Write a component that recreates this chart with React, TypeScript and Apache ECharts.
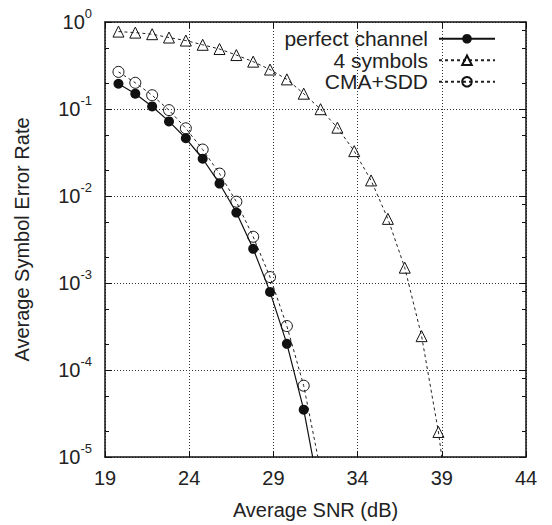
import React, { useEffect, useRef } from "react";
import * as echarts from "echarts";

// SNR values (dB) at which the curves were sampled
const snrShort = [19.8, 20.8, 21.8, 22.8, 23.8, 24.8, 25.8, 26.8, 27.8, 28.8, 29.8, 30.8, 31.8];
const snrLong = [
  19.8, 20.8, 21.8, 22.8, 23.8, 24.8, 25.8, 26.8, 27.8, 28.8, 29.8, 30.8, 31.8, 32.8, 33.8,
  34.8, 35.8, 36.8, 37.8, 38.8, 39.8,
];

// Average symbol error rate
const perfectChannel = [0.195, 0.15, 0.107, 0.072, 0.0461, 0.0268, 0.0139, 0.00645, 0.00247, 7.9e-4, 2.0e-4, 3.5e-5, 3.3e-6];
const cmaSdd = [0.267, 0.2, 0.144, 0.097, 0.06, 0.0342, 0.0181, 0.0086, 0.0034, 0.00117, 3.2e-4, 6.6e-5, 7e-6];
const fourSymbols = [
  0.776, 0.755, 0.724, 0.663, 0.612, 0.547, 0.489, 0.417, 0.35, 0.284, 0.219, 0.15, 0.0995,
  0.061, 0.0328, 0.0151, 0.00546, 0.0015, 2.45e-4, 1.94e-5, 7e-7,
];

const seriesNames = ["perfect channel", "4 symbols", "CMA+SDD"];
const xTicks = [19, 24, 29, 34, 39, 44];
const decades = [1e-5, 1e-4, 1e-3, 1e-2, 1e-1];
const minorLeft = [2, 5];
const minorRight = [2, 5, 8];

const FONT = "'Liberation Sans', Arial, Helvetica, sans-serif";
const zip = (xs: number[], ys: number[]) => xs.map((x, i) => [x, ys[i]]);

export default function App() {
  const ref = useRef<HTMLDivElement>(null);
  useEffect(() => {
    const chart = echarts.init(ref.current!, null, { renderer: "svg" });
    const leftMinor: number[] = [];
    const rightMinor: number[] = [];
    decades.forEach((d) => {
      minorLeft.forEach((m) => leftMinor.push(m * d));
      minorRight.forEach((m) => rightMinor.push(m * d));
    });
    const frame = { show: true, lineStyle: { color: "#111", width: 1.5 } };
    const grid = { type: [1, 2], color: "#333", width: 1 };
    const option: any = {
      animation: false,
      backgroundColor: "#fff",
      grid: { left: 105, right: 26, top: 22, bottom: 64 },
      legend: {
        orient: "vertical",
        right: 51,
        top: 23,
        align: "right",
        itemWidth: 56,
        itemHeight: 12,
        itemGap: 0,
        selectedMode: false,
        textStyle: { fontSize: 21, fontFamily: FONT, color: "#222", lineHeight: 21.5, padding: [0, 6, 0, 0] },
        data: seriesNames,
      },
      xAxis: [
        {
          type: "value",
          min: xTicks[0],
          max: xTicks[xTicks.length - 1],
          interval: 5,
          name: "Average SNR (dB)",
          nameLocation: "middle",
          nameGap: 43,
          nameTextStyle: { fontSize: 20, fontFamily: FONT, color: "#222" },
          axisLine: frame,
          axisTick: { show: true, inside: true, length: 6, lineStyle: { color: "#111" } },
          axisLabel: { fontSize: 20, fontFamily: FONT, color: "#222", margin: 11 },
          splitLine: { show: true, lineStyle: grid },
        },
        {
          type: "value",
          position: "top",
          min: xTicks[0],
          max: xTicks[xTicks.length - 1],
          interval: 5,
          axisLine: frame,
          axisTick: { show: true, inside: true, length: 6, lineStyle: { color: "#111" } },
          axisLabel: { show: false },
          splitLine: { show: false },
        },
      ],
      yAxis: [
        {
          type: "log",
          logBase: 10,
          min: 1e-5,
          max: 1,
          name: "Average Symbol Error Rate",
          nameLocation: "middle",
          nameGap: 73,
          nameTextStyle: { fontSize: 20, fontFamily: FONT, color: "#222" },
          axisLine: frame,
          axisTick: { show: true, inside: true, length: 7, lineStyle: { color: "#111" } },
          axisLabel: {
            margin: 13,
            formatter: (v: number) => `{b|10}{s|${Math.round(Math.log10(v))}}`,
            rich: {
              b: { fontSize: 20, fontFamily: FONT, color: "#222", lineHeight: 20, verticalAlign: "bottom" },
              s: { fontSize: 13, fontFamily: FONT, color: "#222", lineHeight: 13, verticalAlign: "bottom", padding: [0, 0, 12, 0] },
            },
          },
          splitLine: { show: true, lineStyle: grid },
          minorTick: { show: false },
        },
        {
          type: "log",
          logBase: 10,
          min: 1e-5,
          max: 1,
          position: "right",
          axisLine: frame,
          axisTick: { show: true, inside: true, length: 7, lineStyle: { color: "#111" } },
          axisLabel: { show: false },
          splitLine: { show: false },
        },
        {
          type: "log",
          logBase: 10,
          min: 1e-5,
          max: 1,
          position: "left",
          axisLine: { show: false },
          axisTick: { show: true, inside: true, length: 4, customValues: leftMinor, lineStyle: { color: "#111" } },
          axisLabel: { show: false },
          splitLine: { show: false },
        },
        {
          type: "log",
          logBase: 10,
          min: 1e-5,
          max: 1,
          position: "right",
          axisLine: { show: false },
          axisTick: { show: true, inside: true, length: 4, customValues: rightMinor, lineStyle: { color: "#111" } },
          axisLabel: { show: false },
          splitLine: { show: false },
        },
      ],
      series: [
        {
          type: "line",
          name: seriesNames[0],
          data: zip(snrShort, perfectChannel),
          symbol: "circle",
          symbolSize: 10,
          clip: true,
          z: 4,
          lineStyle: { color: "#111", width: 1.2 },
          itemStyle: { color: "#111" },
        },
        {
          type: "line",
          name: seriesNames[1],
          data: zip(snrLong, fourSymbols),
          symbol: "triangle",
          symbolSize: 11,
          clip: true,
          z: 3,
          lineStyle: { color: "#222", width: 1, type: [3, 3] },
          itemStyle: { color: "rgba(0,0,0,0)", borderColor: "#111", borderWidth: 1 },
        },
        {
          type: "line",
          name: seriesNames[2],
          data: zip(snrShort, cmaSdd),
          symbol: "circle",
          symbolSize: 11,
          clip: true,
          z: 3,
          lineStyle: { color: "#222", width: 1, type: [3, 3] },
          itemStyle: { color: "rgba(0,0,0,0)", borderColor: "#111", borderWidth: 1 },
        },
      ],
    };
    chart.setOption(option);
    return () => chart.dispose();
  }, []);
  return (
    <div
      ref={ref}
      style={{ position: "fixed", left: 0, top: 0, width: 552, height: 525, background: "#fff" }}
    />
  );
}
